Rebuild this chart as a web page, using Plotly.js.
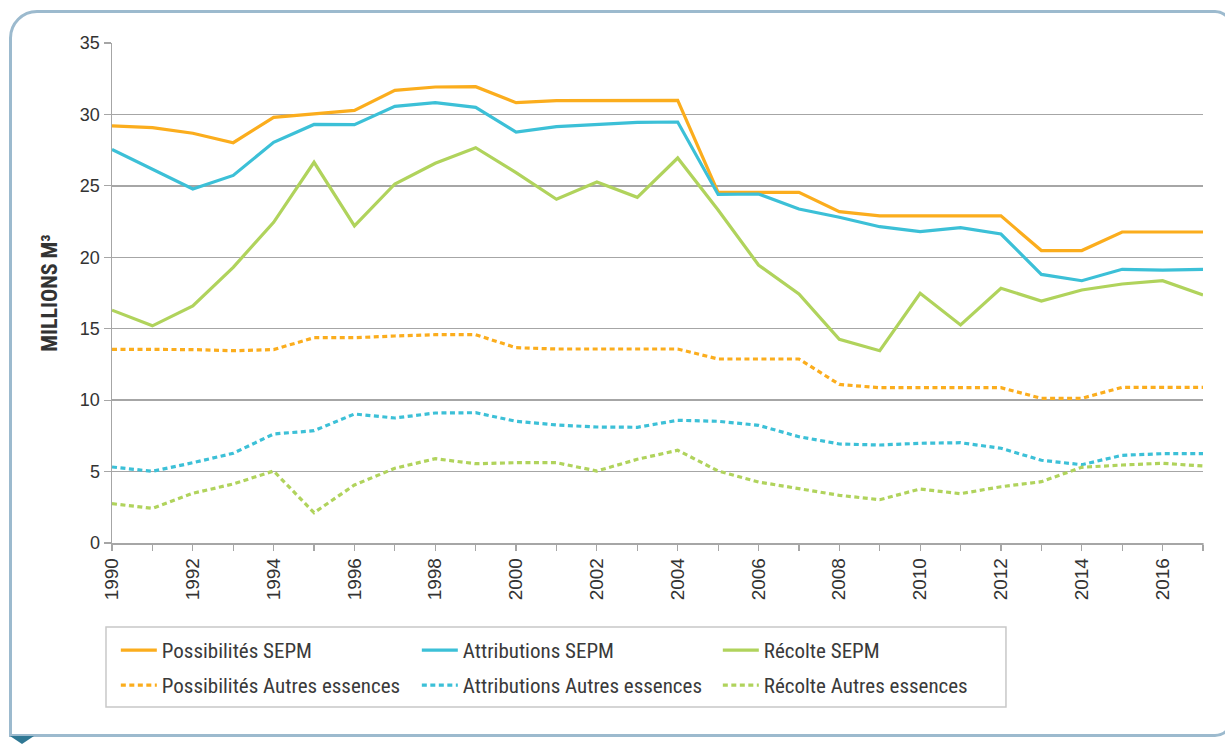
<!DOCTYPE html>
<html>
<head>
<meta charset="utf-8">
<script src="https://cdn.plot.ly/plotly-3.0.1.min.js"></script>
<style>
  html, body { margin: 0; padding: 0; background: #ffffff; overflow: hidden; }
  #wrap { position: relative; width: 1225px; height: 744px; }
  #chart { position: absolute; left: 0; top: 0; width: 1225px; height: 744px; }
  #frame { position: absolute; left: 9px; top: 10px; width: 1218px; height: 721px;
           border: 3px solid #9cbace; border-radius: 28px 18px 18px 0; pointer-events: none; }
  #tri { position: absolute; left: 10px; top: 736px; width: 0; height: 0;
         border-left: 12px solid transparent; border-right: 12px solid transparent;
         border-top: 8px solid #2f7894; pointer-events: none; }
</style>
</head>
<body>
<div id="wrap">
  <div id="chart"></div>
  <div id="frame"></div>
  <div id="tri"></div>
</div>
<script>
const years = [1990,1991,1992,1993,1994,1995,1996,1997,1998,1999,2000,2001,2002,2003,2004,2005,2006,2007,2008,2009,2010,2011,2012,2013,2014,2015,2016,2017];

const possibilitesSEPM = [29.2,29.07,28.68,28.02,29.8,30.05,30.28,31.69,31.92,31.94,30.82,30.96,30.96,30.96,30.98,24.55,24.55,24.55,23.2,22.9,22.9,22.9,22.9,20.47,20.47,21.77,21.77,21.77];
const attributionsSEPM = [27.55,26.15,24.78,25.73,28.05,29.3,29.28,30.57,30.82,30.5,28.77,29.14,29.3,29.45,29.47,24.4,24.43,23.38,22.8,22.14,21.8,22.07,21.63,18.8,18.36,19.16,19.1,19.16];
const recolteSEPM = [16.3,15.2,16.6,19.3,22.45,26.65,22.2,25.13,26.58,27.67,25.92,24.06,25.27,24.2,26.95,23.31,19.46,17.43,14.26,13.46,17.48,15.26,17.83,16.94,17.71,18.13,18.36,17.36];
const possibilitesAutres = [13.56,13.56,13.54,13.46,13.54,14.37,14.37,14.49,14.58,14.58,13.67,13.58,13.58,13.58,13.58,12.88,12.88,12.88,11.1,10.87,10.87,10.87,10.87,10.13,10.13,10.9,10.9,10.9];
const attributionsAutres = [5.32,5.02,5.62,6.28,7.63,7.86,9.03,8.75,9.1,9.12,8.52,8.26,8.12,8.1,8.59,8.52,8.24,7.44,6.93,6.86,6.98,7.02,6.63,5.79,5.48,6.14,6.25,6.25];
const recolteAutres = [2.75,2.43,3.48,4.13,5.04,2.12,4.06,5.23,5.9,5.55,5.62,5.62,5.04,5.86,6.49,5.04,4.27,3.83,3.34,3.03,3.78,3.45,3.94,4.29,5.3,5.46,5.58,5.39];

const seriesNames = ["Possibilités SEPM","Attributions SEPM","Récolte SEPM","Possibilités Autres essences","Attributions Autres essences","Récolte Autres essences"];
const tickLabels = years.map(y => (y % 2 === 0 ? String(y) : ""));

const ORANGE = "#fbad1d", BLUE = "#3cc0d7", GREEN = "#b0d35c";
const narrow = "'Liberation Sans Narrow', 'Arial Narrow', 'Roboto Condensed', 'Liberation Sans', Arial, sans-serif";

function tr(y, name, color, dotted, legend) {
  return {
    x: years, y: y, name: name, type: "scatter", mode: "lines",
    line: { color: color, width: 3.2, dash: dotted ? "5px,3.5px" : "solid" },
    legend: legend, hoverinfo: "x+y+name"
  };
}

const data = [
  tr(possibilitesSEPM, seriesNames[0], ORANGE, false, "legend"),
  tr(attributionsSEPM, seriesNames[1], BLUE, false, "legend"),
  tr(recolteSEPM, seriesNames[2], GREEN, false, "legend"),
  tr(possibilitesAutres, seriesNames[3], ORANGE, true, "legend2"),
  tr(attributionsAutres, seriesNames[4], BLUE, true, "legend2"),
  tr(recolteAutres, seriesNames[5], GREEN, true, "legend2")
];

const legendCommon = {
  orientation: "h", xanchor: "left", yanchor: "top", x: 0.0035,
  font: { family: narrow, size: 21, color: "#3a3a3a" },
  bgcolor: "rgba(0,0,0,0)", borderwidth: 0, itemwidth: 36,
  entrywidth: 250, entrywidthmode: "pixels", traceorder: "normal"
};

const layout = {
  width: 1225, height: 744,
  margin: { l: 112, r: 22, t: 43, b: 201 },
  paper_bgcolor: "#ffffff", plot_bgcolor: "#ffffff",
  showlegend: true,
  legend: Object.assign({}, legendCommon, { y: -0.174 }),
  legend2: Object.assign({}, legendCommon, { y: -0.244 }),
  xaxis: {
    range: [1990, 2017], tickmode: "array", tickvals: years, ticktext: tickLabels,
    tickangle: -90, ticks: "outside", ticklen: 6, tickwidth: 1.2, tickcolor: "#a6a6a6",
    showgrid: false, zeroline: false, showline: true, linecolor: "#a6a6a6", linewidth: 1.5,
    tickfont: { family: "'Liberation Sans', Arial, sans-serif", size: 19, color: "#333333" },
    fixedrange: true
  },
  yaxis: {
    range: [0, 35], tickvals: [0,5,10,15,20,25,30,35],
    ticks: "outside", ticklen: 7, tickwidth: 1.2, tickcolor: "#a6a6a6",
    showgrid: true, gridcolor: "#a6a6a6", gridwidth: 1.5,
    zeroline: false, showline: true, linecolor: "#a6a6a6", linewidth: 1.5,
    tickfont: { family: "'Liberation Sans', Arial, sans-serif", size: 18, color: "#333333" },
    title: { text: "MILLIONS M³", font: { family: narrow, size: 22, color: "#333333", weight: 700 }, standoff: 16 },
    fixedrange: true
  },
  shapes: [
    { type: "rect", xref: "paper", yref: "paper",
      x0: -0.0055, x1: 0.8194, y0: -0.328, y1: -0.168,
      line: { color: "#c8c8c8", width: 1.5 }, fillcolor: "rgba(0,0,0,0)", layer: "below" },
    { type: "line", xref: "paper", yref: "paper", x0: 1, x1: 1, y0: 0, y1: -0.012,
      line: { color: "#a6a6a6", width: 1.2 } }
  ]
};

Plotly.newPlot("chart", data, layout, { displayModeBar: false, staticPlot: true });
</script>
</body>
</html>
